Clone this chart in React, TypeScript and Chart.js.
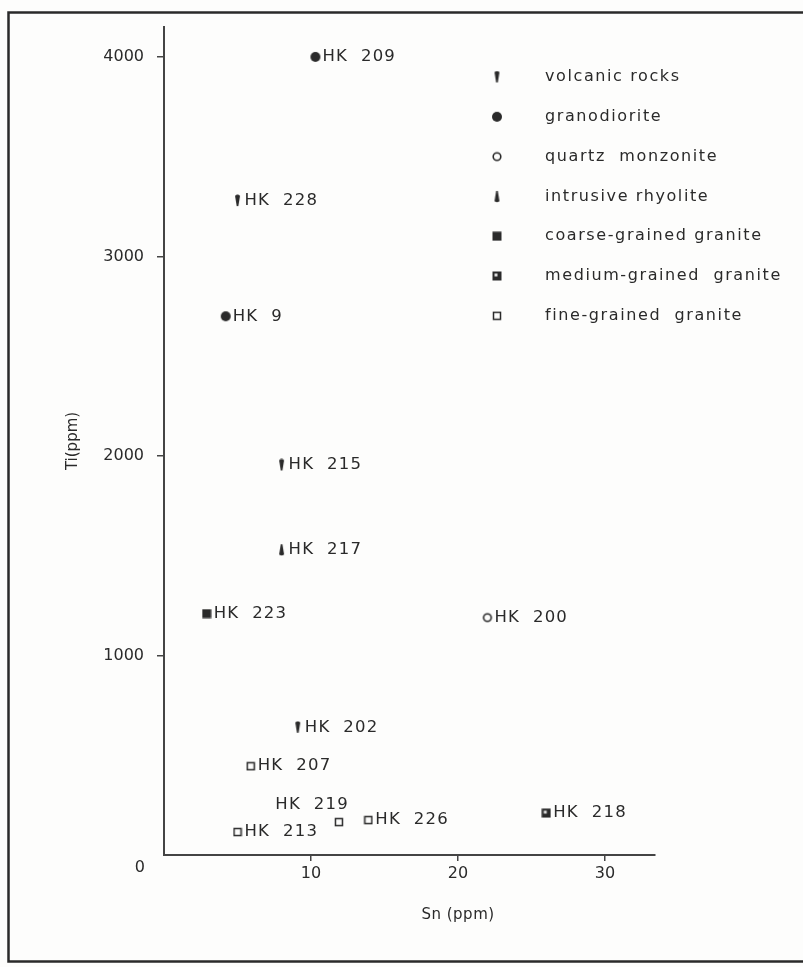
import React, { useEffect, useRef } from "react";
import { Chart, registerables } from "chart.js";

Chart.register(...registerables);

// ---- data ----
const groupNames = [
  "volcanic rocks",
  "granodiorite",
  "quartz  monzonite",
  "intrusive rhyolite",
  "coarse-grained granite",
  "medium-grained  granite",
  "fine-grained  granite",
];

const volcanicPts = [
  { x: 5.0, y: 3280, name: "HK 228" },
  { x: 8.0, y: 1955, name: "HK 215" },
  { x: 9.1, y: 640, name: "HK 202" },
];
const granodioritePts = [
  { x: 10.3, y: 4000, name: "HK 209" },
  { x: 4.2, y: 2700, name: "HK 9" },
];
const quartzMonzonitePts = [{ x: 22.0, y: 1190, name: "HK 200" }];
const intrusiveRhyolitePts = [{ x: 8.0, y: 1530, name: "HK 217" }];
const coarseGranitePts = [{ x: 2.9, y: 1210, name: "HK 223" }];
const mediumGranitePts = [{ x: 26.0, y: 210, name: "HK 218" }];
const fineGranitePts = [
  { x: 5.9, y: 445, name: "HK 207" },
  { x: 11.9, y: 165, name: "HK 219" },
  { x: 13.9, y: 175, name: "HK 226" },
  { x: 5.0, y: 115, name: "HK 213" },
];

const xTicks = [10, 20, 30];
const yTicks = [1000, 2000, 3000, 4000];
const labelsAbove = ["HK 219"];

const INK = "#2a2a2a";
const FONT = "'DejaVu Sans', sans-serif";

function mk(w: number, h: number, draw: (c: CanvasRenderingContext2D) => void) {
  const cv = document.createElement("canvas");
  cv.width = w;
  cv.height = h;
  const c = cv.getContext("2d")!;
  draw(c);
  return cv;
}

function makeStyles() {
  const volcanic = mk(7, 13, (c) => {
    c.fillStyle = INK;
    c.beginPath();
    c.moveTo(1.0, 1.8);
    c.quadraticCurveTo(3.5, -0.6, 6.0, 1.8);
    c.lineTo(4.3, 12);
    c.lineTo(2.7, 12);
    c.closePath();
    c.fill();
  });
  const intrusive = mk(7, 13, (c) => {
    c.fillStyle = INK;
    c.beginPath();
    c.moveTo(2.7, 1);
    c.lineTo(4.3, 1);
    c.lineTo(6.0, 11.2);
    c.quadraticCurveTo(3.5, 13.4, 1.0, 11.2);
    c.closePath();
    c.fill();
  });
  const filledCircle = mk(12, 12, (c) => {
    c.fillStyle = INK;
    c.beginPath();
    c.arc(6, 6, 5, 0, Math.PI * 2);
    c.fill();
  });
  const openCircle = mk(12, 12, (c) => {
    c.strokeStyle = INK;
    c.lineWidth = 1.6;
    c.beginPath();
    c.arc(6, 6, 3.8, 0, Math.PI * 2);
    c.stroke();
  });
  const filledSquare = mk(10, 10, (c) => {
    c.fillStyle = INK;
    c.fillRect(0.5, 0.5, 9, 9);
  });
  const halfSquare = mk(10, 10, (c) => {
    c.fillStyle = INK;
    c.fillRect(0.5, 0.5, 9, 9);
    c.fillStyle = "#dddddd";
    c.fillRect(2.5, 2.5, 3, 3);
  });
  const openSquare = mk(10, 10, (c) => {
    c.strokeStyle = INK;
    c.lineWidth = 1.5;
    c.strokeRect(1.5, 1.5, 7, 7);
  });
  return [volcanic, filledCircle, openCircle, intrusive, filledSquare, halfSquare, openSquare];
}

export default function App() {
  const ref = useRef<HTMLCanvasElement | null>(null);

  useEffect(() => {
    document.body.style.margin = "0";
    const styles = makeStyles();
    const groups = [
      volcanicPts,
      granodioritePts,
      quartzMonzonitePts,
      intrusiveRhyolitePts,
      coarseGranitePts,
      mediumGranitePts,
      fineGranitePts,
    ];

    const decor = {
      id: "decor",
      beforeDraw(chart: any) {
        const c = chart.ctx as CanvasRenderingContext2D;
        c.save();
        c.fillStyle = "#fdfdfc";
        c.fillRect(0, 0, chart.width, chart.height);
        c.strokeStyle = "#2a2a2a";
        c.lineWidth = 2.5;
        c.strokeRect(8.5, 12.5, chart.width + 20, 949);
        c.restore();
      },
      afterDatasetsDraw(chart: any) {
        const c = chart.ctx as CanvasRenderingContext2D;
        const xs = chart.scales.x;
        const ys = chart.scales.y;
        c.save();
        c.fillStyle = INK;
        (c as any).letterSpacing = "1.2px";
        // point labels
        c.font = `16.5px ${FONT}`;
        c.textBaseline = "middle";
        chart.data.datasets.forEach((ds: any) => {
          ds.data.forEach((p: any) => {
            const px = xs.getPixelForValue(p.x);
            const py = ys.getPixelForValue(p.y);
            const txt = p.name.replace(" ", "  ");
            if (labelsAbove.includes(p.name)) {
              c.textAlign = "right";
              c.fillText(txt, px + 10, py - 17);
            } else {
              c.textAlign = "left";
              c.fillText(txt, px + 7, py);
            }
          });
        });
        // legend
        (c as any).letterSpacing = "1.6px";
        c.font = `16px ${FONT}`;
        c.textAlign = "left";
        const lx = 497;
        const ly0 = 77;
        const gap = 39.8;
        chart.data.datasets.forEach((ds: any, i: number) => {
          const y = ly0 + i * gap;
          const st = ds.pointStyle as HTMLCanvasElement;
          c.drawImage(st, lx - st.width / 2, y - st.height / 2);
          c.fillText(ds.label, 545, y);
        });
        // axis titles and corner zero
        (c as any).letterSpacing = "0.5px";
        c.font = `15px ${FONT}`;
        c.textAlign = "center";
        c.fillText("Sn (ppm)", xs.getPixelForValue(20), 915);
        c.font = `16px ${FONT}`;
        c.fillText("0", 140, 868);
        c.restore();
      },
    };

    const chart = new Chart(ref.current!, {
      type: "scatter",
      data: {
        datasets: groups.map((g, i) => ({
          label: groupNames[i],
          data: g,
          pointStyle: styles[i] as any,
          pointRadius: 5,
          backgroundColor: INK,
          borderColor: INK,
        })),
      },
      options: {
        animation: false,
        responsive: false,
        events: [],
        layout: { padding: { left: 60, top: 27, right: 148, bottom: 42 } },
        plugins: { legend: { display: false }, tooltip: { enabled: false } },
        scales: {
          x: {
            type: "linear",
            min: 0,
            max: 33.4,
            afterBuildTicks: (s: any) => {
              s.ticks = xTicks.map((v) => ({ value: v }));
            },
            afterFit: (s: any) => {
              s.height = 70;
            },
            grid: {
              drawOnChartArea: false,
              drawTicks: true,
              tickLength: 6,
              color: "#444",
              lineWidth: 1.5,
            },
            border: { color: "#444", width: 2 },
            ticks: {
              color: INK,
              font: { size: 16, family: FONT },
              padding: 3,
              callback: (v: any) => String(v),
            },
          },
          y: {
            type: "linear",
            min: 0,
            max: 4150,
            afterBuildTicks: (s: any) => {
              s.ticks = yTicks.map((v) => ({ value: v }));
            },
            afterFit: (s: any) => {
              s.width = 104;
            },
            grid: {
              drawOnChartArea: false,
              drawTicks: true,
              tickLength: 7,
              color: "#444",
              lineWidth: 1.5,
            },
            border: { color: "#444", width: 2 },
            ticks: {
              color: INK,
              font: { size: 16, family: FONT },
              padding: 13,
              callback: (v: any) => String(v),
            },
            title: {
              display: true,
              text: "Ti(ppm)",
              color: INK,
              font: { size: 15, family: FONT },
              padding: { top: 4, bottom: 4 },
            },
          },
        },
      },
      plugins: [decor],
    });
    return () => chart.destroy();
  }, []);

  return (
    <div style={{ width: 803, height: 967, overflow: "hidden" }}>
      <canvas ref={ref} width={803} height={967} style={{ display: "block" }} />
    </div>
  );
}
